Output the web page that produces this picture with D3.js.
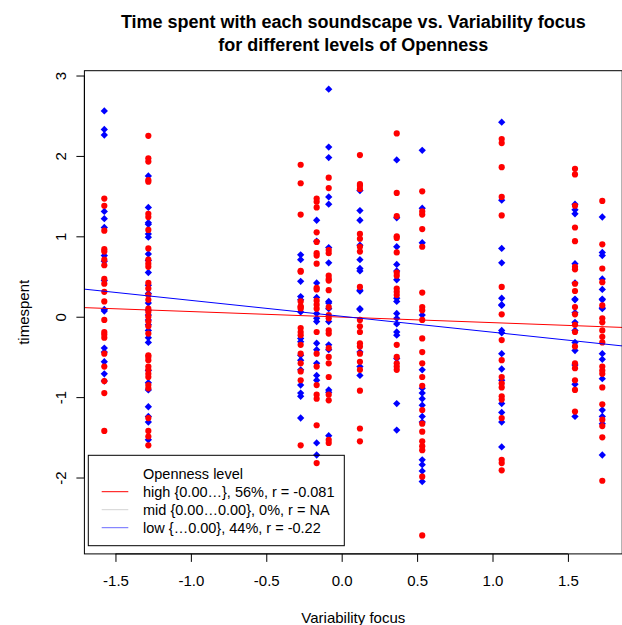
<!DOCTYPE html>
<html><head><meta charset="utf-8">
<script src="https://cdn.jsdelivr.net/npm/d3@7"></script>
<style>body{margin:0;background:#fff}svg{display:block;font-family:"Liberation Sans",Arial,Helvetica,sans-serif}</style>
</head><body>
<svg id="c" width="622" height="625"></svg>
<script>
// ---- data ----
const xCols = [-1.574, -1.282, -0.272, -0.166, -0.086, 0.121, 0.365, 0.534, 1.061, 1.547, 1.728];
const highY = [
  [1.47,1.38,1.07,0.84,0.81,0.71,0.64,0.47,0.41,0.31,0.19,-0.04,-0.19,-0.22,-0.26,-0.46,-0.62,-0.80,-0.95,-1.42],
  [2.25,1.97,1.93,1.70,1.68,1.28,1.24,1.08,0.85,0.71,0.66,0.62,0.42,0.35,0.27,0.21,0.10,0.06,0.0,-0.06,-0.12,-0.21,-0.48,-0.50,-0.54,-0.62,-0.66,-0.71,-0.75,-0.85,-0.89,-1.26,-1.42,-1.49,-1.60],
  [1.89,1.66,1.27,0.57,0.56,0.13,0.10,0.19,0.12,-0.14,-0.19,-0.23,-0.35,-0.46,-0.58,-0.68,-0.79,-1.60],
  [1.47,1.43,1.36,1.05,0.93,0.79,0.76,0.66,0.36,0.34,0.20,0.10,0.15,-0.19,-0.46,-0.62,-0.85,-0.97,-1.02,-1.35,-1.82],
  [1.73,1.60,0.83,0.79,0.51,0.47,0.45,0.33,0.12,0.02,-0.02,-0.17,-0.21,-0.39,-0.50,-0.58,-0.75,-0.97,-1.04,-1.53,-1.57],
  [2.01,1.65,1.63,1.59,1.03,0.97,0.87,0.81,0.37,-0.04,-0.12,-0.19,-0.33,-0.37,-0.46,-0.56,-0.66,-0.92,-1.39,-1.55],
  [2.28,1.54,1.25,1.00,0.98,0.80,0.55,0.51,0.35,0.31,0.27,-0.35,-0.50,-0.58,-0.62,-0.66],
  [1.56,1.31,1.27,1.09,0.87,0.30,0.12,0.08,-0.04,-0.27,-0.44,-0.58,-0.75,-0.86,-1.16,-1.33,-1.43,-1.55,-1.61,-1.66,-1.99,-2.72],
  [2.21,2.16,1.86,1.49,1.26,0.37,0.03,-0.29,-0.54,-0.75,-0.83,-0.88,-0.99,-1.03,-1.26,-1.78,-1.82,-1.91],
  [1.84,1.77,1.38,1.11,0.94,0.62,0.59,0.41,0.32,0.12,0.03,-0.10,-0.19,-0.37,-0.58,-0.64,-0.79,-0.91,-1.18],
  [1.44,0.90,0.60,0.43,0.14,-0.02,-0.07,-0.17,-0.25,-0.32,-0.62,-0.67,-0.71,-0.88,-1.09,-1.28,-1.36,-1.50,-2.04]
];
const lowY = [
  [2.56,2.33,2.26,1.31,1.22,1.11,0.76,0.69,0.45,0.09,0.07,-0.39,-0.44,-0.56,-0.71,-0.80],
  [1.75,1.36,1.17,1.15,1.03,0.99,0.78,0.70,0.55,0.39,0.29,0.17,0.08,0.02,-0.04,-0.10,-0.17,-0.26,-0.32,-0.67,-0.82,-0.91,-1.12,-1.24,-1.31,-1.53],
  [0.77,0.71,0.44,0.25,0.21,0.06,-0.27,-0.31,-0.48,-0.54,-0.66,-0.85,-0.95,-0.99,-1.26],
  [1.20,0.94,0.42,0.24,0.04,-0.02,-0.06,-0.33,-0.41,-0.58,-0.73,-0.79,-1.57,-1.72],
  [2.83,2.11,1.98,1.49,1.40,0.86,0.67,0.19,0.17,0.10,-0.06,-0.35,-0.41,-0.91,-0.94,-1.48],
  [1.57,1.32,1.20,0.89,0.71,0.60,0.57,0.33,0.32,0.10,0.09,-0.44,-0.62,-0.73],
  [1.95,1.23,0.87,0.65,0.57,0.46,0.23,0.19,0.04,-0.02,-0.09,-0.19,-0.23,-0.52,-1.08,-1.41],
  [2.07,1.35,0.92,0.02,-0.66,-0.89,-0.95,-1.02,-1.10,-1.24,-1.31,-1.78,-1.84,-1.92,-2.05],
  [2.42,1.45,0.85,0.67,0.23,0.14,0.15,-0.17,-0.20,-0.46,-0.65,-0.79,-1.08,-1.19,-1.31,-1.62],
  [1.40,1.33,1.28,0.66,0.42,0.22,0.21,0.05,-0.07,-0.17,-0.32,-0.42,-0.60,-0.84,-1.24],
  [1.24,0.80,0.76,0.47,0.34,0.22,0.11,0.21,0.10,-0.46,-0.53,-0.77,-1.16,-1.24,-1.33,-1.72]
];
// fitted regression lines (endpoints at the plot edges)
const fitX = [-1.706, 1.860];
const fitHighY = [0.113, -0.133];
const fitLowY = [0.343, -0.363];
const xTicks = [-1.5, -1.0, -0.5, 0.0, 0.5, 1.0, 1.5];
const yTicks = [-2, -1, 0, 1, 2, 3];
const legendLabels = ["high {0.00\u2026}, 56%, r = -0.081", "mid {0.00\u20260.00}, 0%, r = NA", "low {\u20260.00}, 44%, r = -0.22"];
const legendColors = ["#ff0000", "#d3d3d3", "#6b6bff"];

// ---- chart ----
const svg = d3.select("#c");
const L = 84.4, R = 622.2, T = 70.7, B = 553.9;
const x = d3.scaleLinear().domain([-1.706, 1.860]).range([L, R]);
const y = d3.scaleLinear().domain([-2.95, 3.06]).range([B, T]);

svg.append("defs").append("clipPath").attr("id","clip")
  .append("rect").attr("x",L).attr("y",T).attr("width",R-L).attr("height",B-T);

// points
const pts = [];
xCols.forEach((xv,i)=>{
  highY[i].forEach(v=>pts.push({x:xv,y:v,g:"high"}));
  lowY[i].forEach(v=>pts.push({x:xv,y:v,g:"low"}));
});
const diamond = d3.symbol().type(d3.symbolDiamond2).size(34);
const gp = svg.append("g");
gp.selectAll("path.low").data(pts.filter(d=>d.g==="low")).join("path")
  .attr("class","low").attr("d",diamond)
  .attr("transform",d=>`translate(${x(d.x)},${y(d.y)})`).attr("fill","#0000ff");
gp.selectAll("circle").data(pts.filter(d=>d.g==="high")).join("circle")
  .attr("cx",d=>x(d.x)).attr("cy",d=>y(d.y)).attr("r",3.1).attr("fill","#ff0000");

// regression lines
const lines = [{g:"high",c:"#ff0000",ys:fitHighY},{g:"low",c:"#0000ff",ys:fitLowY}];
svg.append("g").attr("clip-path","url(#clip)").selectAll("line").data(lines).join("line")
  .attr("x1",x(fitX[0])).attr("x2",x(fitX[1]))
  .attr("y1",d=>y(d.ys[0])).attr("y2",d=>y(d.ys[1]))
  .attr("stroke",d=>d.c).attr("stroke-width",1);

// box
svg.append("rect").attr("x",L).attr("y",T).attr("width",R-L).attr("height",B-T)
  .attr("fill","none").attr("stroke","#000").attr("stroke-width",1);

// x axis
const xa = svg.append("g").attr("transform",`translate(0,${B})`)
  .call(d3.axisBottom(x).tickValues(xTicks).tickFormat(d=>d.toFixed(1)).tickSize(8).tickPadding(13));
xa.select(".domain").attr("d",`M${x(xTicks[0])},0H${x(xTicks[xTicks.length-1])}`);
xa.selectAll("text").attr("font-size","15px").attr("font-family","Liberation Sans, Arial, sans-serif").attr("fill","#000");
xa.selectAll("line").attr("stroke","#000");

// y axis
const ya = svg.append("g").attr("transform",`translate(${L},0)`)
  .call(d3.axisLeft(y).tickValues(yTicks).tickFormat(d=>String(d)).tickSize(8));
ya.select(".domain").attr("d",`M0,${y(yTicks[0])}V${y(yTicks[yTicks.length-1])}`);
ya.selectAll("line").attr("stroke","#000");
ya.selectAll("text").attr("font-size","15px").attr("font-family","Liberation Sans, Arial, sans-serif").attr("fill","#000")
  .attr("x",0).attr("dy",null).attr("text-anchor","middle")
  .attr("transform","translate(-24,0) rotate(-90)")
  .attr("dominant-baseline","central");

// titles
const cx = (L+R)/2;
svg.append("text").attr("x",cx).attr("y",28).attr("text-anchor","middle")
  .attr("font-weight","bold").attr("font-size","18px").text("Time spent with each soundscape vs. Variability focus");
svg.append("text").attr("x",cx).attr("y",51).attr("text-anchor","middle")
  .attr("font-weight","bold").attr("font-size","18px").text("for different levels of Openness");
svg.append("text").attr("x",cx).attr("y",623).attr("text-anchor","middle")
  .attr("font-size","15px").text("Variability focus");
svg.append("text").attr("transform",`translate(29,${(T+B)/2}) rotate(-90)`).attr("text-anchor","middle")
  .attr("font-size","15px").text("timespent");

// legend
const lg = svg.append("g");
lg.append("rect").attr("x",88.3).attr("y",455.3).attr("width",256).attr("height",90.4)
  .attr("fill","none").attr("stroke","#000").attr("stroke-width",1);
lg.append("text").attr("x",143).attr("y",479).attr("font-size","14.5px").text("Openness level");
legendLabels.forEach((t,i)=>{
  const yy = 491.7 + i*18;
  lg.append("line").attr("x1",101.7).attr("x2",128.3).attr("y1",yy).attr("y2",yy)
    .attr("stroke",legendColors[i]).attr("stroke-width",1);
  lg.append("text").attr("x",143).attr("y",yy+5).attr("font-size","14.5px").text(t);
});
</script>
</body></html>
